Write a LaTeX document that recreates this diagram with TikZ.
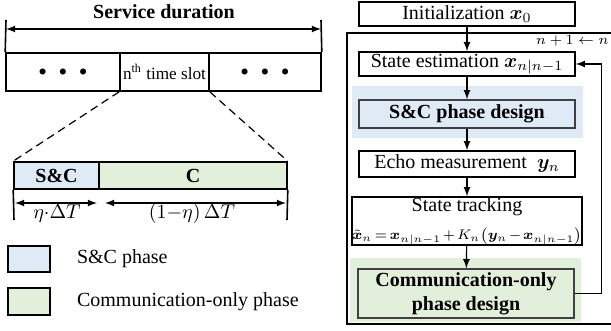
\documentclass[tikz,border=0pt]{standalone}
\usepackage{amsmath}
\usepackage{bm}
\usepackage{fontspec}
\setmainfont{Liberation Serif}
\definecolor{scblue}{RGB}{222,234,246}
\definecolor{cgreen}{RGB}{226,239,218}
\newcommand{\threedots}{{\scriptsize$\bullet$\hspace{6pt}$\bullet$\hspace{6pt}$\bullet$}}
\tikzset{
	blk/.style={draw=black, line width=0.7pt, minimum width=108pt, inner sep=1pt, align=center},
	cell/.style={draw=black, line width=0.8pt, inner sep=0pt},
	gbox/.style={draw=black!75, line width=0.7pt, minimum width=108pt, inner sep=1pt, align=center}
}

\begin{document}
\begin{tikzpicture}[x=0.5pt, y=-0.5pt]
				\useasboundingbox (0,0) rectangle (611,331);
				% time line of the service
				\node[font=\bfseries] (A) at (164,12){Service duration};
				\node[cell, minimum width=57pt, minimum height=19pt] (L) at (63,72){\threedots};
				\node[cell, minimum width=44.5pt, minimum height=19pt, font=\fontsize{8.6}{10}\selectfont] (N) at (164.5,72){n\textsuperscript{th} time slot};
				\node[cell, minimum width=56pt, minimum height=19pt] (R) at (265,72){\threedots};
				\coordinate (a) at (6,20);
				\coordinate (b) at (321,20);
				\coordinate (c) at (6,29);
				\coordinate (d) at (321,29);
				\draw[line width=0.8pt] (L.north west)--(a);
				\draw[line width=0.8pt] (R.north east)--(b);
				\draw[latex-latex, line width=0.6pt] (c)--(d);
				% one slot
				\node[cell, fill=scblue, minimum width=42.5pt, minimum height=13.5pt, font=\bfseries] (S) at (56.5,175.5){S\&C};
				\node[cell, fill=cgreen, minimum width=94pt, minimum height=13.5pt, font=\bfseries] (C) at (193,175.5){C};
				\draw[dash pattern=on 4pt off 2.5pt, line width=0.6pt] (N.south west)--(S.north west);
				\draw[dash pattern=on 4pt off 2.5pt, line width=0.6pt] (N.south east)--(C.north east);
				\coordinate (e) at (14,220);
				\coordinate (f) at (287,220);
				\draw[line width=0.8pt] (S.south west)--(e);
				\draw[line width=0.8pt] (C.south east)--(f);
				\coordinate (g) at (15,203);
				\coordinate (h) at (97,203);
				\coordinate (i) at (105,203);
				\coordinate (j) at (286,203);
				\draw[latex-latex, line width=0.6pt] (g)--(h);
				\draw[latex-latex, line width=0.6pt] (i)--(j);
				\node (B) at (57,214){$\eta{\cdot}\Delta T$};
				\node (D) at (192,214){$\left(1{-}\eta\right)\Delta T$};
				% legend
				\node[cell, fill=scblue, minimum width=21pt, minimum height=13pt] (P) at (29,259){};
				\node[cell, fill=cgreen, minimum width=21pt, minimum height=13.5pt] (Q) at (29,301.5){};
				\node[anchor=west] (U) at (70,259){S\&C phase};
				\node[anchor=west] (V) at (70,301.5){Communication-only phase};
				% flow of one slot
				\fill[scblue] (352,86) rectangle (583,138);
				\fill[cgreen] (350,258) rectangle (581,322);
				\draw[line width=0.7pt] (347,33) rectangle (614,324);
				\node[blk, minimum height=12pt] (I) at (467,14){Initialization $\bm{x}_0$};
				\node[blk, minimum height=12pt] (E) at (467,64){State estimation $\bm{x}_{n|n-1}$};
				\node[gbox, fill=scblue, minimum height=14pt, font=\bfseries] (F) at (467,114){S\&C phase design};
				\node[blk, minimum height=13pt] (M) at (467,164){Echo measurement\enspace$\bm{y}_n$};
				\node[blk, minimum height=24pt, inner sep=0pt] (T) at (467,221){State tracking\\[2pt]{\scriptsize\medmuskip=2mu\thickmuskip=3mu$\tilde{\bm{x}}_n=\bm{x}_{n|n-1}+K_n\bigl(\bm{y}_n-\bm{x}_{n|n-1}\bigr)$}};
				\node[gbox, fill=cgreen, minimum height=24.5pt, font=\bfseries] (G) at (466,293.5){Communication-only\\phase design};
				\node[anchor=north east, font=\scriptsize, inner sep=1pt] (K) at (611,33){$n+1\leftarrow n$};
				\draw [-latex, line width=0.6pt](I)--(E);
				\draw [-latex, line width=0.6pt](E)--(F);
				\draw [-latex, line width=0.6pt](F)--(M);
				\draw [-latex, line width=0.6pt](M)--(T);
				\draw [-latex, line width=0.6pt](T)--(G);
				\draw [-latex, line width=0.6pt](G.east)--++(27,0)|-(E.east);
			\end{tikzpicture}
\end{document}
